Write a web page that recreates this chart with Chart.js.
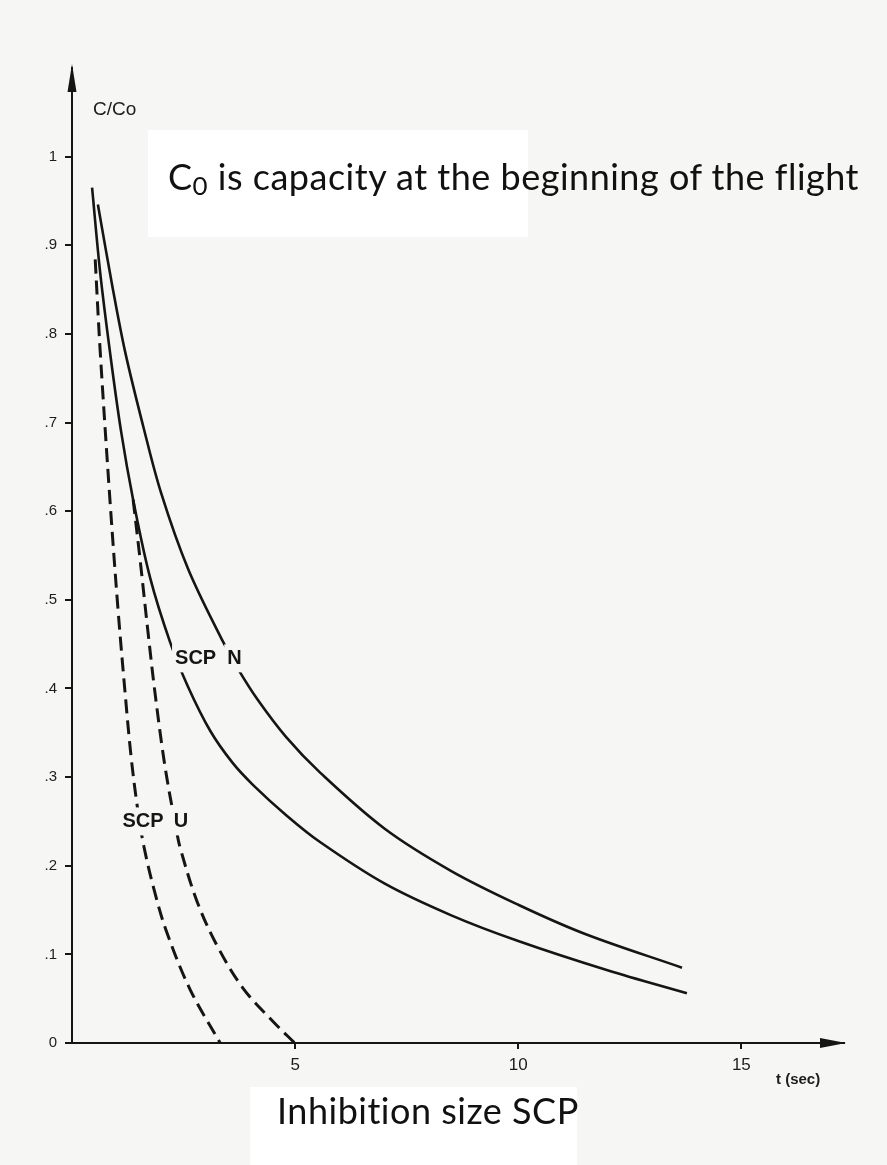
<!DOCTYPE html>
<html>
<head>
<meta charset="utf-8">
<script src="https://cdn.jsdelivr.net/npm/chart.js@4/dist/chart.umd.min.js"></script>
<style>
  html, body { margin: 0; padding: 0; background: #f6f6f4; }
  #wrap { position: relative; width: 887px; height: 1165px; overflow: hidden; background: #f6f6f4; }
  .box { position: absolute; background: #ffffff; }
  #chart { position: absolute; left: 0; top: 0; }
  .note { position: absolute; margin: 0; white-space: nowrap; color: #111;
          font-family: Lato, "Open Sans", "Liberation Sans", sans-serif; font-size: 36px;
          line-height: 1; letter-spacing: 0.5px; }
  .note sub { font-size: 0.72em; vertical-align: -0.2em; line-height: 0; }
</style>
</head>
<body>
<div id="wrap">
  <div class="box" style="left:148px;top:130px;width:380px;height:107px;"></div>
  <div class="box" style="left:250px;top:1087px;width:327px;height:78px;"></div>
  <canvas id="chart" width="887" height="1165"></canvas>
  <p class="note" style="left:168px;top:158px;">C<sub>0</sub> is capacity at the beginning of the flight</p>
  <p class="note" style="left:277px;top:1092px;">Inhibition size SCP</p>
</div>
<script>
// Time axis (seconds) and relative capacity C/Co for each curve
const nSolidT = [0.58, 0.9, 1.19, 1.6, 2.0, 2.6, 3.36, 3.72, 4.15, 4.8, 5.56, 7.0, 8.5, 10.0, 11.5, 13.67];
const nSolidV = [0.946, 0.855, 0.78, 0.695, 0.62, 0.535, 0.455, 0.422, 0.388, 0.345, 0.305, 0.242, 0.194, 0.156, 0.123, 0.085];

const lowerSolidT = [0.45, 0.63, 0.85, 1.1, 1.37, 1.75, 2.2, 2.6, 3.1, 3.6, 4.06, 4.8, 5.55, 7.0, 8.5, 10.0, 12.0, 13.78];
const lowerSolidV = [0.965, 0.87, 0.78, 0.69, 0.613, 0.525, 0.452, 0.402, 0.352, 0.316, 0.291, 0.257, 0.227, 0.180, 0.144, 0.115, 0.082, 0.056];

const uInnerT = [0.52, 0.63, 0.85, 1.03, 1.19, 1.32, 1.46, 1.61, 1.86, 2.13, 2.65, 3.32];
const uInnerV = [0.884, 0.782, 0.613, 0.49, 0.395, 0.325, 0.268, 0.222, 0.169, 0.124, 0.06, 0.0];

const uOuterT = [1.37, 1.52, 1.70, 1.86, 2.09, 2.33, 2.42, 2.80, 3.25, 3.83, 4.51, 4.99];
const uOuterV = [0.613, 0.548, 0.465, 0.395, 0.310, 0.243, 0.221, 0.160, 0.110, 0.062, 0.024, 0.0];

const yTicks = [0, 0.1, 0.2, 0.3, 0.4, 0.5, 0.6, 0.7, 0.8, 0.9, 1.0];
const xTicks = [5, 10, 15];

// Curve captions, placed in data units
const captionText = ['SCP', 'N', 'SCP', 'U'];
const captionT = [2.77, 3.64, 1.59, 2.44];
const captionV = [0.434, 0.434, 0.25, 0.25];

const pts = (ts, vs) => ts.map((t, i) => ({ x: t, y: vs[i] }));
const ink = '#151515';
const paper = '#f6f6f4';

const lineBase = {
  borderColor: ink, borderWidth: 2.6, pointRadius: 0, fill: false,
  tension: 0.35, borderCapStyle: 'butt', borderJoinStyle: 'round'
};

const arrows = {
  id: 'arrows',
  afterDraw(chart) {
    const { ctx, chartArea: a } = chart;
    ctx.save();
    ctx.fillStyle = ink;
    ctx.beginPath();
    ctx.moveTo(a.left, a.top - 4);
    ctx.lineTo(a.left - 4.5, a.top + 24);
    ctx.lineTo(a.left + 4.5, a.top + 24);
    ctx.closePath();
    ctx.fill();
    ctx.beginPath();
    ctx.moveTo(a.right + 2, a.bottom);
    ctx.lineTo(a.right - 24, a.bottom - 5);
    ctx.lineTo(a.right - 24, a.bottom + 5);
    ctx.closePath();
    ctx.fill();
    // axis titles
    ctx.fillStyle = '#1c1c1c';
    ctx.font = '19px "Liberation Sans", Arial, sans-serif';
    ctx.textBaseline = 'alphabetic';
    ctx.textAlign = 'left';
    ctx.fillText('C/Co', 93, 115);
    ctx.font = 'bold 15px "Liberation Sans Narrow", "Liberation Sans", sans-serif';
    ctx.fillText('t (sec)', 776, 1084);
    ctx.restore();
  }
};

const captions = {
  id: 'captions',
  afterDatasetsDraw(chart) {
    const { ctx, scales: { x, y } } = chart;
    ctx.save();
    ctx.font = 'bold 20px "Liberation Sans Narrow", "Liberation Sans", sans-serif';
    ctx.textAlign = 'center';
    ctx.textBaseline = 'middle';
    captionText.forEach((txt, i) => {
      const px = x.getPixelForValue(captionT[i]);
      const py = y.getPixelForValue(captionV[i]);
      const w = ctx.measureText(txt).width;
      ctx.fillStyle = paper;
      ctx.fillRect(px - w / 2 - 3, py - 14, w + 6, 28);
      ctx.fillStyle = ink;
      ctx.fillText(txt, px, py);
    });
    ctx.restore();
  }
};

new Chart(document.getElementById('chart'), {
  type: 'line',
  data: {
    datasets: [
      { ...lineBase, label: 'SCP N', data: pts(nSolidT, nSolidV) },
      { ...lineBase, label: 'SCP N (lower)', data: pts(lowerSolidT, lowerSolidV) },
      { ...lineBase, label: 'SCP U', data: pts(uInnerT, uInnerV), borderWidth: 3, borderDash: [14, 7] },
      { ...lineBase, label: 'SCP U (outer)', data: pts(uOuterT, uOuterV), borderWidth: 3, borderDash: [14, 7] }
    ]
  },
  options: {
    responsive: false,
    animation: false,
    layout: { padding: { top: 68, right: 43, left: 0, bottom: 0 } },
    plugins: { legend: { display: false }, tooltip: { enabled: false } },
    scales: {
      x: {
        type: 'linear', min: 0, max: 17.3,
        afterFit(s) { s.height = 122; },
        afterBuildTicks(s) { s.ticks = xTicks.map(v => ({ value: v })); },
        grid: { drawOnChartArea: false, drawTicks: true, tickLength: 6, color: ink, lineWidth: 2 },
        border: { display: true, color: ink, width: 2 },
        ticks: { color: '#1c1c1c', padding: 6, font: { family: '"Liberation Sans Narrow", "Liberation Sans", sans-serif', size: 17 } }
      },
      y: {
        type: 'linear', min: 0, max: 1.1,
        afterFit(s) { s.width = 72; },
        afterBuildTicks(s) { s.ticks = yTicks.map(v => ({ value: v })); },
        grid: { drawOnChartArea: false, drawTicks: true, tickLength: 7, color: ink, lineWidth: 2 },
        border: { display: true, color: ink, width: 2 },
        ticks: {
          color: '#1c1c1c', padding: 8,
          font: { family: '"Liberation Sans", Arial, sans-serif', size: 15 },
          callback(v) {
            if (v === 0) return '0';
            if (Math.abs(v - 1) < 1e-9) return '1';
            return '.' + Math.round(v * 10);
          }
        }
      }
    }
  },
  plugins: [arrows, captions]
});
</script>
</body>
</html>
